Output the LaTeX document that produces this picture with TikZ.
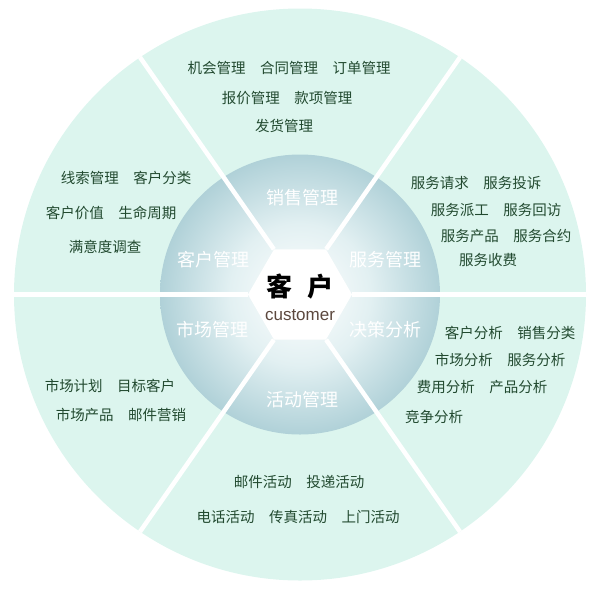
\documentclass[tikz,border=0pt]{standalone}
\usepackage{fontspec}
\setmainfont{Liberation Sans}
\newfontfamily\cjk{Noto Sans CJK SC}
\usepackage{xcolor}
\usepackage{tikz}
\usetikzlibrary{shapes.geometric, positioning, calc}
\definecolor{ringcolor}{RGB}{220, 245, 238}
\definecolor{disccolor}{RGB}{136, 182, 194}
\definecolor{discmid}{RGB}{176, 209, 216}
\definecolor{disclight}{RGB}{226, 240, 242}
\definecolor{itemcolor}{RGB}{34, 74, 48}
\definecolor{custcolor}{RGB}{92, 72, 62}
\pgfdeclareradialshading{discshade}{\pgfpoint{0bp}{0bp}}{color(0bp)=(white); color(12.6bp)=(disclight); color(25bp)=(discmid); color(35.4bp)=(disccolor); color(50bp)=(disccolor)}
\newcommand{\itemgap}{\hspace{1em}}

\begin{document}
\begin{tikzpicture}[
    x=1pt, y=-1pt,
    ring/.style={circle, fill=ringcolor, minimum size=572pt, inner sep=0pt},
    disc/.style={circle, shading=discshade, minimum size=280pt, inner sep=0pt},
    hexa/.style={regular polygon, regular polygon sides=6, fill=white, minimum size=104pt, inner sep=0pt},
    divider/.style={white, line width=4.5pt},
    item/.style={text=itemcolor, inner sep=0pt, font=\cjk\fontsize{14.5}{17}\selectfont},
    module/.style={text=white, inner sep=0pt, font=\cjk\fontsize{18}{20}\selectfont}
]
    \useasboundingbox (0,0) rectangle (600,590);

    % Rings
    \node[ring] (ring) at (300,294.5) {};
    \node[disc] (disc) at (300,294.5) {};
    \node[hexa] (hex) at (300,294.5) {};

    % Dividers
    \draw[divider] (hex.0) -- (ring.0);
    \draw[divider] (hex.180) -- (ring.180);
    \draw[divider] (hex.60) -- (ring.56);
    \draw[divider] (hex.120) -- (ring.124);
    \draw[divider] (hex.240) -- (ring.236);
    \draw[divider] (hex.300) -- (ring.304);

    % Centre
    \node[font=\cjk\bfseries\fontsize{26}{28}\selectfont, inner sep=0pt] (cust) at (300,287) {客\hspace{0.55em}户};
    \node[text=custcolor, font=\fontsize{17}{18}\selectfont, inner sep=0pt, below=9pt of cust] (custen) {customer};

    % Modules
    \node[module] (sales) at (302,198) {销售管理};
    \node[module] (client) at (213,260) {客户管理};
    \node[module] (service) at (385,260) {服务管理};
    \node[module] (market) at (212,330) {市场管理};
    \node[module] (decision) at (385,330) {决策分析};
    \node[module] (campaign) at (302,400) {活动管理};

    % Sales items
    \node[item] (sales1) at (289,68) {机会管理\itemgap 合同管理\itemgap 订单管理};
    \node[item] (sales2) at (287,98) {报价管理\itemgap 款项管理};
    \node[item] (sales3) at (284,126) {发货管理};

    % Service items
    \node[item] (service1) at (476,183) {服务请求\itemgap 服务投诉};
    \node[item] (service2) at (496,210) {服务派工\itemgap 服务回访};
    \node[item] (service3) at (506,236) {服务产品\itemgap 服务合约};
    \node[item] (service4) at (488,260) {服务收费};

    % Decision items
    \node[item] (decision1) at (510,333) {客户分析\itemgap 销售分类};
    \node[item] (decision2) at (500,360) {市场分析\itemgap 服务分析};
    \node[item] (decision3) at (482,387) {费用分析\itemgap 产品分析};
    \node[item] (decision4) at (434,417) {竞争分析};

    % Client items
    \node[item] (client1) at (126,178) {线索管理\itemgap 客户分类};
    \node[item] (client2) at (111,213) {客户价值\itemgap 生命周期};
    \node[item] (client3) at (105,247) {满意度调查};

    % Market items
    \node[item] (market1) at (110,386) {市场计划\itemgap 目标客户};
    \node[item] (market2) at (121,415) {市场产品\itemgap 邮件营销};

    % Campaign items
    \node[item] (campaign1) at (299,482) {邮件活动\itemgap 投递活动};
    \node[item] (campaign2) at (298,517) {电话活动\itemgap 传真活动\itemgap 上门活动};
\end{tikzpicture}
\end{document}
